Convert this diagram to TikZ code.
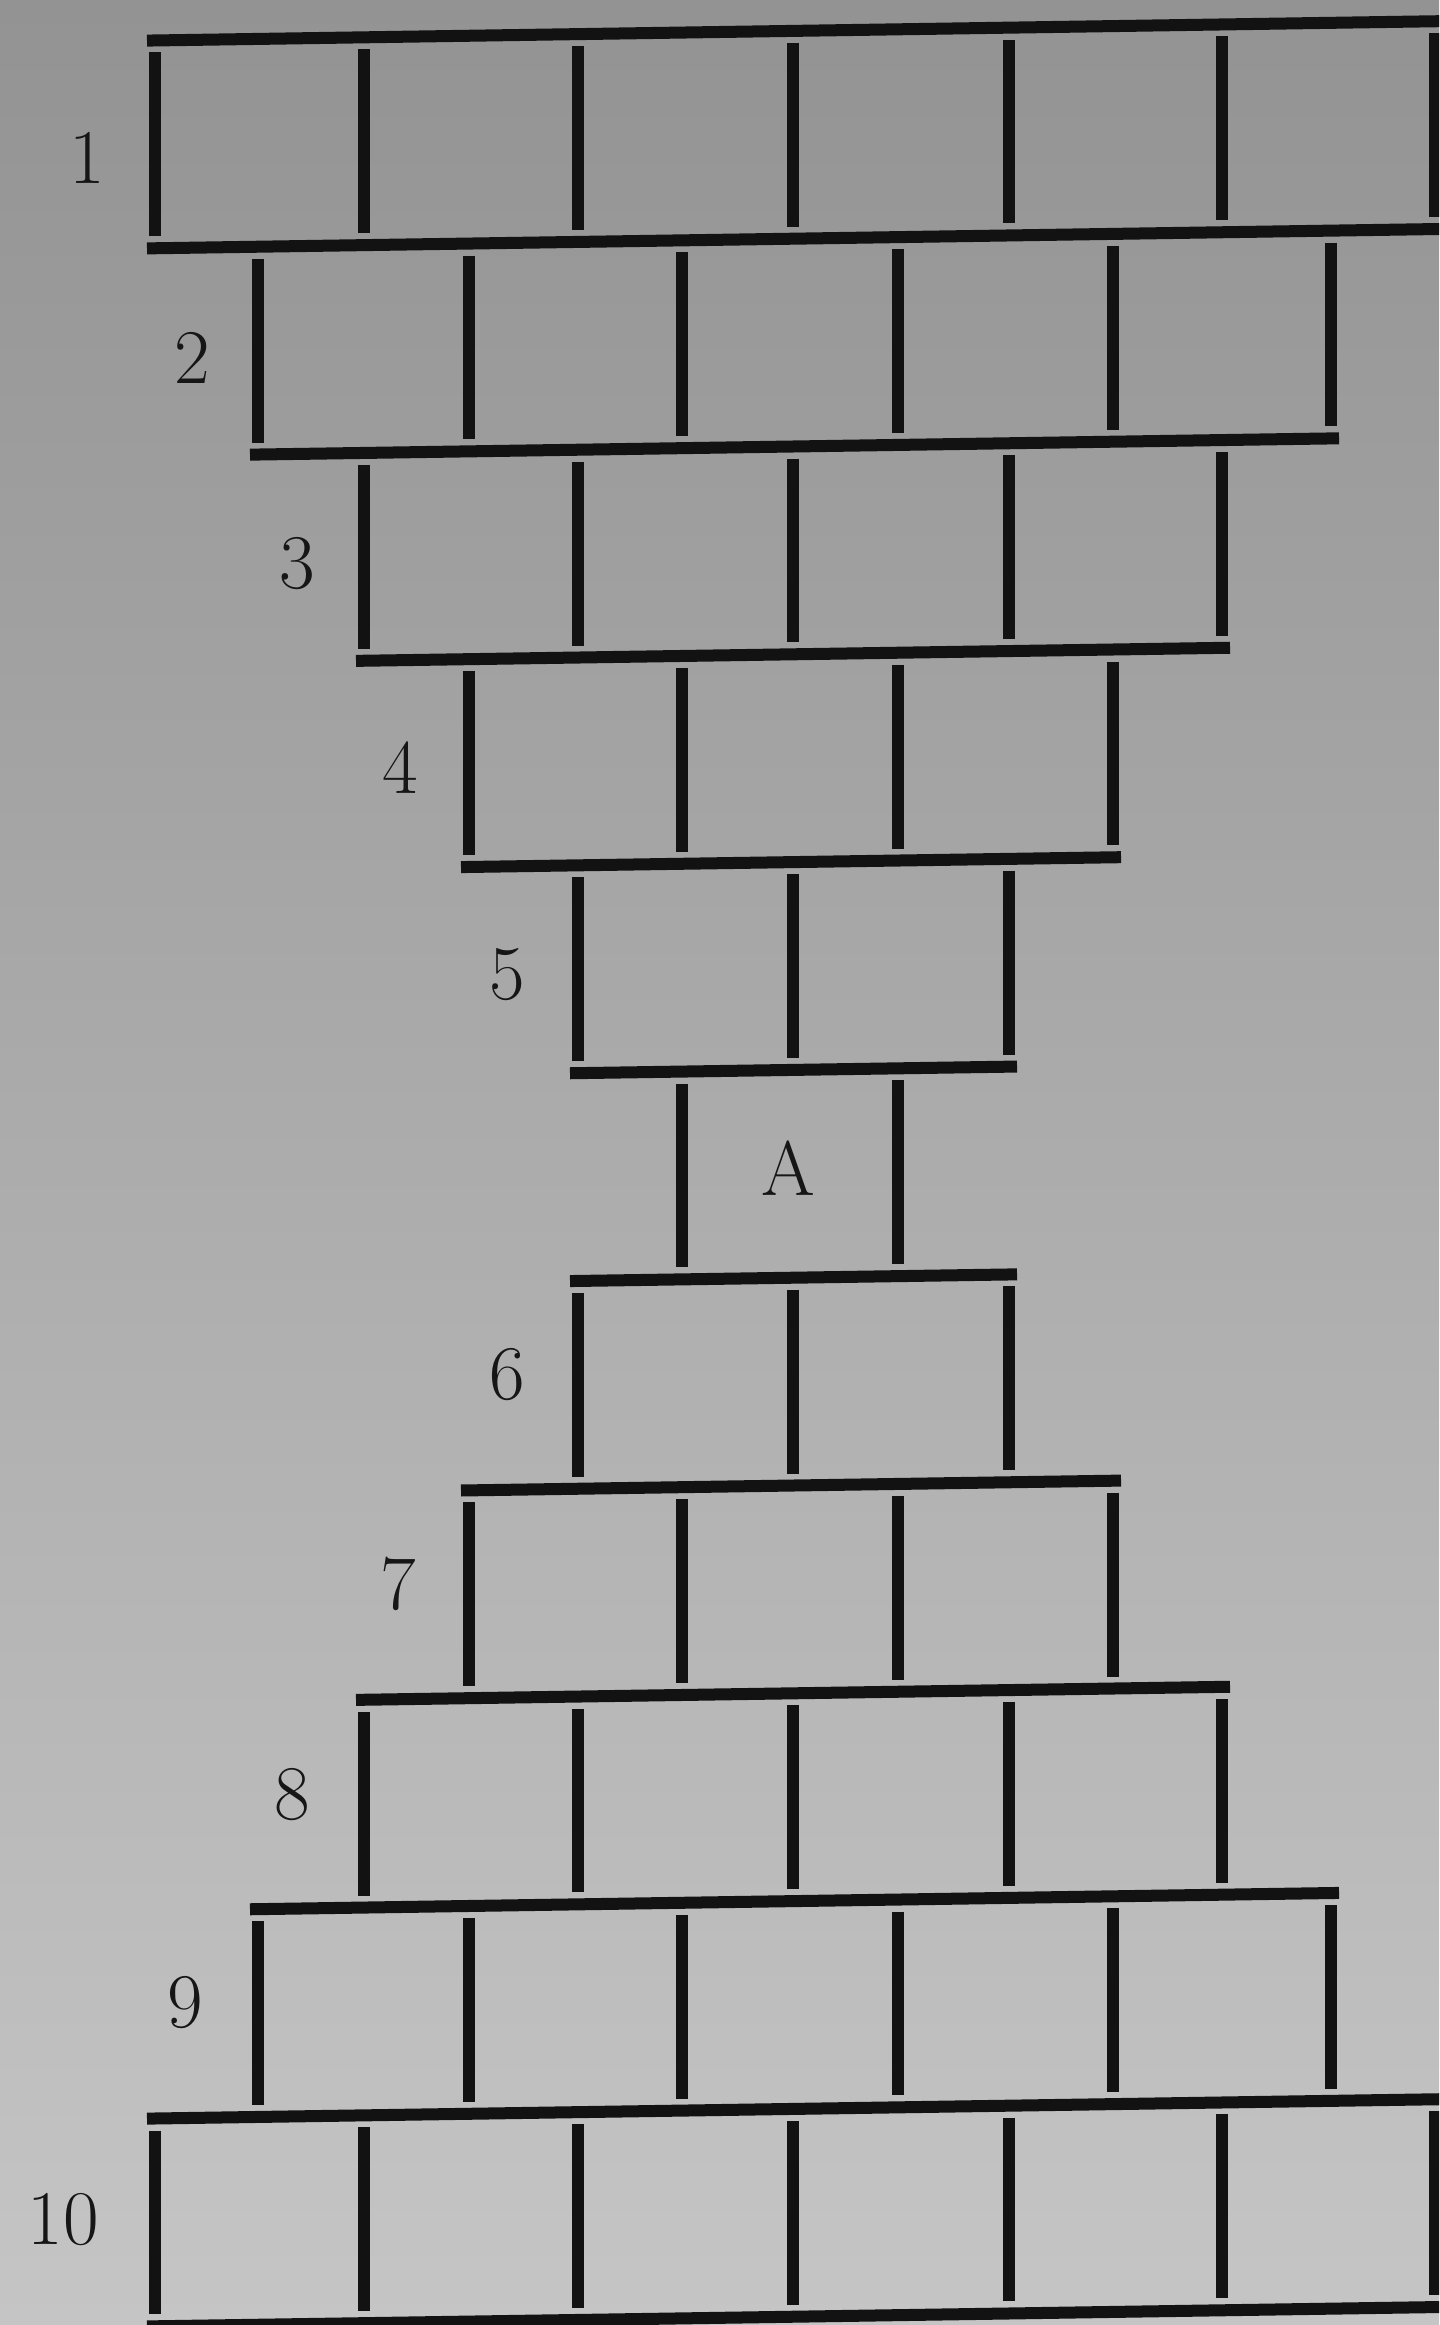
\documentclass[tikz,border=0pt]{standalone}
\usepackage{fontspec}
\begin{document}
\begin{tikzpicture}[x=0.01cm,y=-0.01cm,
  ink/.style={draw={rgb,255:red,18;green,18;blue,18}, line width=0.12cm, line cap=butt},
  lab/.style={inner sep=0pt, text={rgb,255:red,22;green,22;blue,22}, font=\fontsize{22}{26}\selectfont\addfontfeatures{FakeBold=0.6}}]
\useasboundingbox (0,0) rectangle (1439,2325);
\clip (0,0) rectangle (1439,2325);
\shade[top color={rgb,255:red,147;green,147;blue,147}, bottom color={rgb,255:red,197;green,197;blue,197}] (0,0) rectangle (1439,2325);
\def\Xs{{155,258,364,469,578,682,793,898,1009,1113,1222,1331,1435,1452}}
\def\sl{-0.015}
% horizontal lines
\foreach \i/\kl/\kr in {0/0/13,1/0/13,2/1/11,3/2/10,4/3/9,5/4/8,6/4/8,7/3/9,8/2/10,9/1/11,10/0/13,11/0/13}{
  \pgfmathsetmacro\xl{\Xs[\kl]-8}
  \pgfmathsetmacro\xr{\Xs[\kr]+8}
  \pgfmathsetmacro\yl{32+207.8*\i+\sl*(\xl-720)}
  \pgfmathsetmacro\yr{32+207.8*\i+\sl*(\xr-720)}
  \draw[ink] (\xl,\yl) -- (\xr,\yr);
}
% vertical lines
\foreach \t/\kl/\kr in {0/0/12,1/1/11,2/2/10,3/3/9,4/4/8,5/5/7,6/4/8,7/3/9,8/2/10,9/1/11,10/0/12}{
  \pgfmathtruncatemacro\kn{\kl+2}
  \foreach \k in {\kl,\kn,...,\kr}{
    \pgfmathsetmacro\xx{\Xs[\k]}
    \pgfmathsetmacro\yt{32+207.8*\t+\sl*(\xx-720)+12}
    \pgfmathsetmacro\yb{32+207.8*(\t+1)+\sl*(\xx-720)-12}
    \draw[ink] (\xx,\yt) -- (\xx,\yb);
  }
}
% labels
\node[lab] (n1) at (87,158) {1};
\node[lab] (n2) at (192,358) {2};
\node[lab] (n3) at (297,564) {3};
\node[lab] (n4) at (400,768) {4};
\node[lab] (n5) at (507,975) {5};
\node[lab] (nA) at (788,1168) {A};
\node[lab] (n6) at (507,1375) {6};
\node[lab] (n7) at (398,1584) {7};
\node[lab] (n8) at (292,1795) {8};
\node[lab] (n9) at (185,2003) {9};
\node[lab] (n10) at (63,2220) {10};
\end{tikzpicture}
\end{document}
